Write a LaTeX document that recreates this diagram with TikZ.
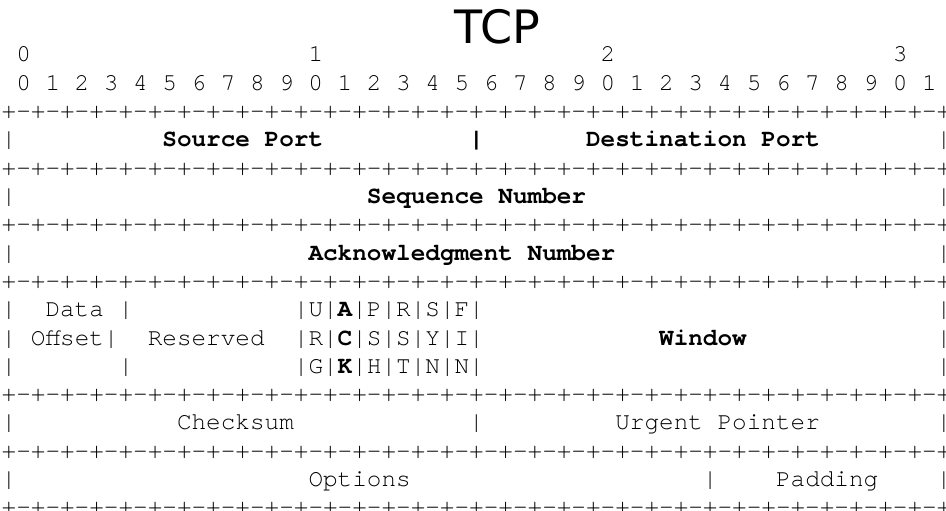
\documentclass[tikz,border=0pt]{standalone}
\usepackage{fontspec}
\newfontfamily\courfont{texgyrecursor}[Extension=.otf,UprightFont=*-regular,BoldFont=*-bold]
\newfontfamily\titlefont{DejaVu Sans}
\tikzset{
  txt/.style={anchor=base west, inner sep=0pt, outer sep=0pt, font=\courfont\fontsize{24.35}{28}\selectfont},
  bx/.style={txt, font=\courfont\bfseries\fontsize{24.35}{28}\selectfont},
  ttl/.style={anchor=base, inner sep=0pt, outer sep=0pt, font=\titlefont\fontsize{46}{50}\selectfont}
}
\newcommand\putcell[5]{\node[#2] (#1) at ({1.7+14.61*(#3)},{61.7+28.33*(#4)}) {#5};}
\newcommand\sepline{+-+-+-+-+-+-+-+-+-+-+-+-+-+-+-+-+-+-+-+-+-+-+-+-+-+-+-+-+-+-+-+-+}
\begin{document}
\begin{tikzpicture}[x=1pt,y=-1pt]
\useasboundingbox (0,0) rectangle (946,511);
\clip (0,0) rectangle (946,511);
\node[ttl] (title) at (497.5,43.3) {TCP};
% bit numbers
\putcell{t0}{txt}{1}{0}{0}
\putcell{t1}{txt}{21}{0}{1}
\putcell{t2}{txt}{41}{0}{2}
\putcell{t3}{txt}{61}{0}{3}
\putcell{bits}{txt}{1}{1}{0 1 2 3 4 5 6 7 8 9 0 1 2 3 4 5 6 7 8 9 0 1 2 3 4 5 6 7 8 9 0 1}
% separators
\putcell{s2}{txt}{0}{2}{\sepline}
\putcell{s4}{txt}{0}{4}{\sepline}
\putcell{s6}{txt}{0}{6}{\sepline}
\putcell{s8}{txt}{0}{8}{\sepline}
\putcell{s12}{txt}{0}{12}{\sepline}
\putcell{s14}{txt}{0}{14}{\sepline}
\putcell{s16}{txt}{0}{16}{\sepline}
% row 3
\putcell{r3a}{txt}{0}{3}{|}
\putcell{srcport}{bx}{11}{3}{Source Port}
\putcell{r3b}{bx}{32}{3}{|}
\putcell{dstport}{bx}{40}{3}{Destination Port}
\putcell{r3c}{txt}{64}{3}{|}
% row 5
\putcell{r5a}{txt}{0}{5}{|}
\putcell{seqnum}{bx}{25}{5}{Sequence Number}
\putcell{r5c}{txt}{64}{5}{|}
% row 7
\putcell{r7a}{txt}{0}{7}{|}
\putcell{acknum}{bx}{21}{7}{Acknowledgment Number}
\putcell{r7c}{txt}{64}{7}{|}
% rows 9-11
\putcell{r9a}{txt}{0}{9}{|}
\putcell{data}{txt}{3}{9}{Data}
\putcell{r9b}{txt}{8}{9}{|}
\putcell{r9f}{txt}{20}{9}{|U|}
\putcell{flagA}{bx}{23}{9}{A}
\putcell{r9g}{txt}{24}{9}{|P|R|S|F|}
\putcell{r9c}{txt}{64}{9}{|}
\putcell{r10a}{txt}{0}{10}{|}
\putcell{offset}{txt}{2}{10}{Offset|}
\putcell{reserved}{txt}{10}{10}{Reserved}
\putcell{r10f}{txt}{20}{10}{|R|}
\putcell{flagC}{bx}{23}{10}{C}
\putcell{r10g}{txt}{24}{10}{|S|S|Y|I|}
\putcell{window}{bx}{45}{10}{Window}
\putcell{r10c}{txt}{64}{10}{|}
\putcell{r11a}{txt}{0}{11}{|}
\putcell{r11b}{txt}{8}{11}{|}
\putcell{r11f}{txt}{20}{11}{|G|}
\putcell{flagK}{bx}{23}{11}{K}
\putcell{r11g}{txt}{24}{11}{|H|T|N|N|}
\putcell{r11c}{txt}{64}{11}{|}
% row 13
\putcell{r13a}{txt}{0}{13}{|}
\putcell{checksum}{txt}{12}{13}{Checksum}
\putcell{r13b}{txt}{32}{13}{|}
\putcell{urgent}{txt}{42}{13}{Urgent Pointer}
\putcell{r13c}{txt}{64}{13}{|}
% row 15
\putcell{r15a}{txt}{0}{15}{|}
\putcell{options}{txt}{21}{15}{Options}
\putcell{r15b}{txt}{48}{15}{|}
\putcell{padding}{txt}{53}{15}{Padding}
\putcell{r15c}{txt}{64}{15}{|}
\end{tikzpicture}
\end{document}
